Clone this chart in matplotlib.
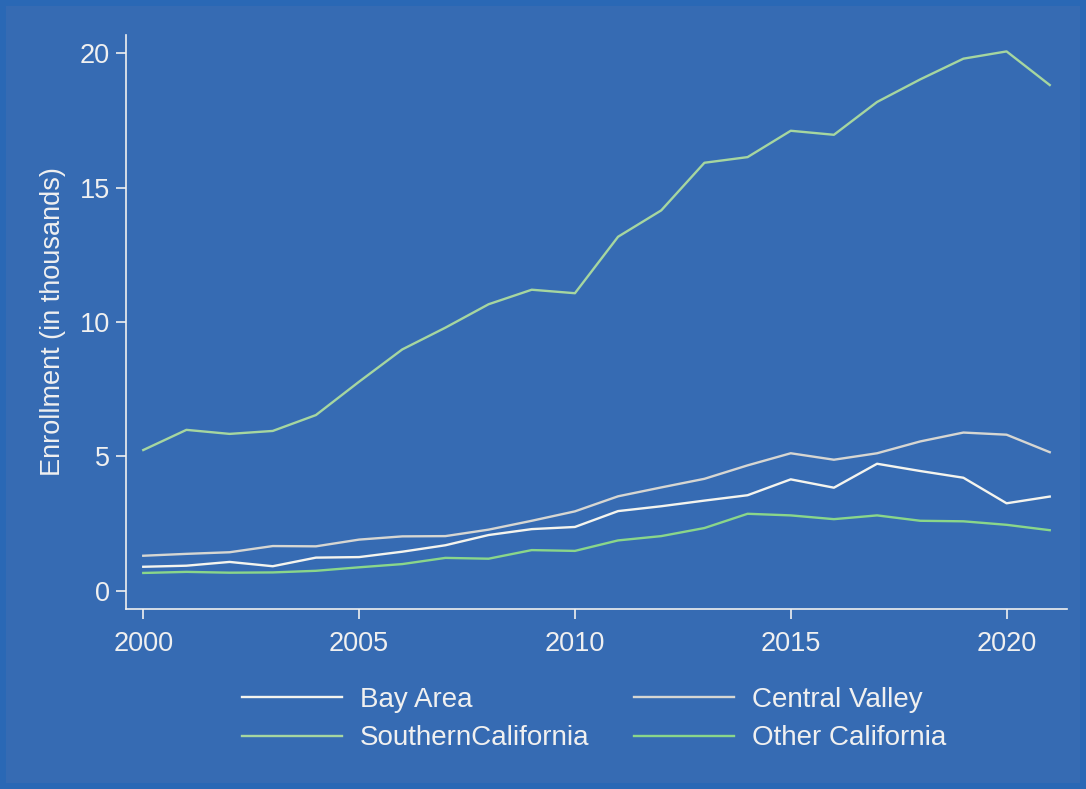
import matplotlib
matplotlib.use("Agg")
import matplotlib.pyplot as plt
from matplotlib.patches import Rectangle

# enrollment in thousands
years = list(range(2000, 2022))
bay_area = [0.90, 0.94, 1.08, 0.92, 1.24, 1.26, 1.46, 1.70, 2.08, 2.30, 2.38,
            2.97, 3.15, 3.36, 3.56, 4.15, 3.84, 4.73, 4.46, 4.21, 3.26, 3.51]
central_valley = [1.31, 1.38, 1.44, 1.67, 1.66, 1.91, 2.03, 2.04, 2.28, 2.61, 2.96,
                  3.52, 3.85, 4.17, 4.67, 5.12, 4.88, 5.12, 5.56, 5.89, 5.81, 5.16]
southern_ca = [5.24, 5.99, 5.84, 5.95, 6.54, 7.78, 8.98, 9.79, 10.66, 11.20, 11.07,
               13.17, 14.15, 15.92, 16.13, 17.11, 16.96, 18.18, 19.02, 19.79, 20.06, 18.81]
other_ca = [0.67, 0.71, 0.68, 0.69, 0.75, 0.88, 1.00, 1.23, 1.20, 1.52, 1.49,
            1.88, 2.04, 2.34, 2.87, 2.81, 2.67, 2.81, 2.61, 2.59, 2.46, 2.26]

series = [("Bay Area", bay_area, "#f4f4ee"),
          ("Central Valley", central_valley, "#d6d6d2"),
          ("SouthernCalifornia", southern_ca, "#a6d6a0"),
          ("Other California", other_ca, "#8ad68a")]

BG = "#366bb3"
EDGE = "#2a68b5"
FG = "#f0f0f0"

plt.rcParams["font.family"] = ["Liberation Sans", "DejaVu Sans"]

fig = plt.figure(figsize=(10.86, 7.89), dpi=100, facecolor=EDGE)
ix, iy = 6 / 1086, 6 / 789
fig.patches.append(Rectangle((ix, iy), 1 - 2 * ix, 1 - 2 * iy, transform=fig.transFigure,
                             facecolor=BG, edgecolor="none", zorder=-10))

ax = fig.add_axes([126 / 1086, 1 - 609 / 789, (1067 - 126) / 1086, (609 - 35) / 789])
ax.set_facecolor(BG)

lines = {}
for name, vals, col in series:
    lines[name], = ax.plot(years, vals, color=col, lw=1.7, label=name)

ax.set_xlim(1999.6, 2021.4)
ax.set_ylim(-0.67, 20.67)
ax.set_xticks([2000, 2005, 2010, 2015, 2020])
ax.set_yticks([0, 5, 10, 15, 20])
for s in ["top", "right"]:
    ax.spines[s].set_visible(False)
for s in ["left", "bottom"]:
    ax.spines[s].set_color(FG)
    ax.spines[s].set_linewidth(1.2)
ax.tick_params(colors=FG, labelcolor=FG, labelsize=19.5, length=7.5, width=1.2)
ax.tick_params(axis="x", pad=8)
ax.tick_params(axis="y", pad=4)
ax.set_ylabel("Enrollment (in thousands)", color=FG, fontsize=19.5, labelpad=10)

# row-major order like the reference: matplotlib fills legend columns first
order = ["Bay Area", "SouthernCalifornia", "Central Valley", "Other California"]
fig.legend([lines[n] for n in order], order, loc="center",
           bbox_to_anchor=(0.547, 1 - 719 / 789), ncol=2, frameon=False,
           fontsize=20, labelcolor=FG, handlelength=3.6, handletextpad=0.65,
           columnspacing=1.6, labelspacing=0.45)

fig.savefig("out.png", dpi=100, facecolor=fig.get_facecolor())
